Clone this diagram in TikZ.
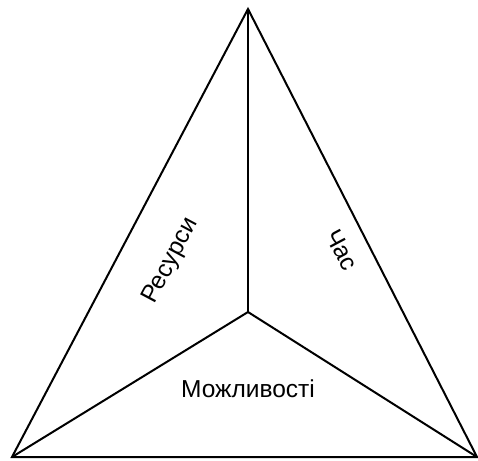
\documentclass[tikz,border=0pt]{standalone}
\usepackage{fontspec}
\setmainfont{Liberation Sans}
\usetikzlibrary{positioning}
\begin{document}
\begin{tikzpicture}[x=1pt, y=-1pt, every node/.style={font=\fontsize{24.5}{29}\selectfont}, edge/.style={line width=2pt}, lbl/.style={inner sep=0pt}]
\useasboundingbox (0,0) rectangle (478,460);
\coordinate (apex) at (248,9);
\coordinate (bl) at (12,457);
\coordinate (br) at (477,457);
\coordinate (ctr) at (248,312);
\draw[edge] (apex) -- (bl) -- (br) -- cycle;
\draw[edge] (ctr) -- (apex); \draw[edge] (ctr) -- (bl); \draw[edge] (ctr) -- (br);
\node[lbl, rotate=62] (resursy) at (171,261) {Ресурси};
\node[lbl, rotate=-62] (chas) at (342,250) {Час};
\node[lbl] (mozhlyvosti) at (248,389) {Можливості};
\end{tikzpicture}
\end{document}
